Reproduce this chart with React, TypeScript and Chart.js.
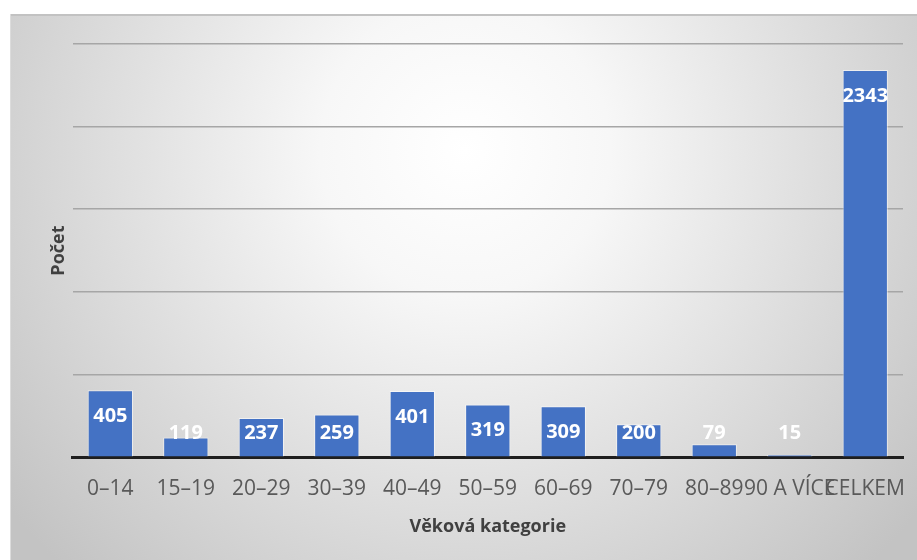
import React, { useEffect, useRef } from "react";
import { Chart, registerables } from "chart.js";

Chart.register(...registerables);

const categories = ["0–14", "15–19", "20–29", "30–39", "40–49", "50–59", "60–69", "70–79", "80–89", "90 A VÍCE", "CELKEM"];
const counts = [405, 119, 237, 259, 401, 319, 309, 200, 79, 15, 2343];
const yMax = 2500;
const yStep = 500;
const yTitle = "Počet";
const xTitle = "Věková kategorie";

const bgPlugin = {
  id: "bgPlugin",
  beforeDraw(chart: any) {
    const { ctx, width, height } = chart;
    ctx.save();
    ctx.fillStyle = "#ffffff";
    ctx.fillRect(0, 0, width, height);
    const g = ctx.createRadialGradient(465, 150, 0, 465, 150, 580);
    g.addColorStop(0, "#ffffff");
    g.addColorStop(0.25, "#f7f7f7");
    g.addColorStop(1, "#c3c3c3");
    ctx.fillStyle = g;
    ctx.fillRect(10, 14, width - 10, height - 14);
    ctx.strokeStyle = "#c2c2c2";
    ctx.lineWidth = 2;
    ctx.beginPath();
    ctx.moveTo(10, 15);
    ctx.lineTo(width, 15);
    ctx.stroke();
    ctx.strokeStyle = "#dcdcdc";
    ctx.lineWidth = 1;
    ctx.beginPath();
    ctx.moveTo(10.5, 14);
    ctx.lineTo(10.5, height);
    ctx.stroke();
    ctx.restore();
  },
};

const labelPlugin = {
  id: "labelPlugin",
  afterDatasetsDraw(chart: any) {
    const { ctx } = chart;
    const meta = chart.getDatasetMeta(0);
    const zeroY = chart.scales.y.getPixelForValue(0);
    ctx.save();
    ctx.fillStyle = "#ffffff";
    ctx.font = "bold 20px 'Open Sans'";
    ctx.textAlign = "center";
    ctx.textBaseline = "middle";
    meta.data.forEach((bar: any, i: number) => {
      const y = Math.min(bar.y + 26, zeroY - 24);
      ctx.fillText(String(counts[i]), bar.x, y);
    });
    ctx.restore();
  },
};

export default function App() {
  const ref = useRef<HTMLCanvasElement | null>(null);
  useEffect(() => {
    document.body.style.margin = "0";
    const chart = new Chart(ref.current as HTMLCanvasElement, {
      type: "bar",
      data: {
        labels: categories,
        datasets: [
          {
            data: counts,
            backgroundColor: "#4472c4",
            borderColor: "rgba(255,255,255,0.55)",
            borderWidth: 1,
            barPercentage: 0.6,
            categoryPercentage: 1,
          },
        ],
      },
      options: {
        animation: false,
        responsive: true,
        maintainAspectRatio: false,
        layout: { padding: { top: 44, left: 10, right: 14, bottom: 18 } },
        plugins: { legend: { display: false }, tooltip: { enabled: false } },
        scales: {
          x: {
            afterFit: (s: any) => {
              s.paddingLeft = 0;
              s.paddingRight = 0;
            },
            grid: { display: false, drawTicks: false },
            border: { display: true, color: "#1e1e1e", width: 3 },
            ticks: {
              color: "#595959",
              font: { family: "'Open Sans'", size: 21 },
              padding: 19,
              maxRotation: 0,
              minRotation: 0,
              autoSkip: false,
            },
            title: {
              display: true,
              text: xTitle,
              color: "#404040",
              font: { family: "'Open Sans'", size: 18, weight: "bold" },
              padding: { top: -4, bottom: 4 },
            },
          },
          y: {
            min: 0,
            max: yMax,
            grid: {
              drawTicks: false,
              color: (c: any) => (c.tick && c.tick.value === 0 ? "rgba(0,0,0,0)" : "#a6a6a6"),
              lineWidth: 1.6,
            },
            border: { display: false },
            ticks: { display: false, stepSize: yStep },
            title: {
              display: true,
              text: yTitle,
              color: "#404040",
              font: { family: "'Open Sans'", size: 18, weight: "bold" },
              padding: { top: 38, bottom: 3 },
            },
          },
        },
      },
      plugins: [bgPlugin, labelPlugin],
    });
    return () => chart.destroy();
  }, []);
  return (
    <div style={{ width: 917, height: 560, position: "relative" }}>
      <canvas ref={ref} />
    </div>
  );
}
